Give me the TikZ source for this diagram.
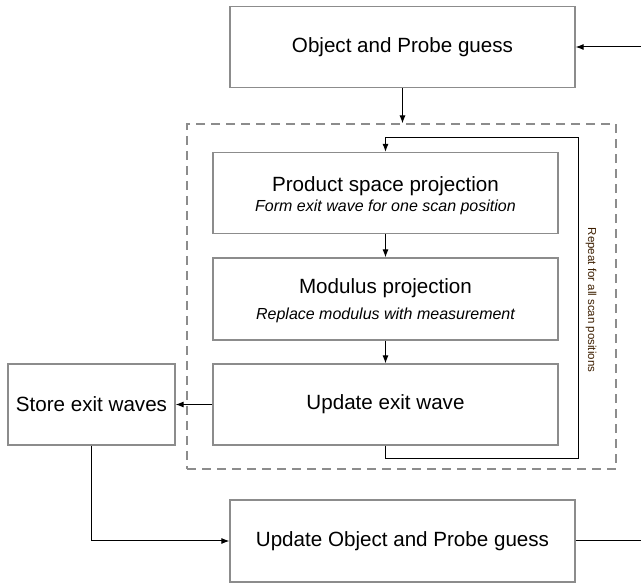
\documentclass[tikz,border=0pt]{standalone}
\usepackage{fontspec}
\setmainfont{Liberation Sans}
\usepackage{xcolor}
\usetikzlibrary{arrows.meta}
\definecolor{boxgray}{RGB}{140,140,140}
\definecolor{notebrown}{RGB}{60,30,0}
\newcommand{\stepsub}[1]{{\fontsize{16}{19}\selectfont\itshape #1}}

\begin{document}
\begin{tikzpicture}[x=1pt,y=-1pt,
  box/.style={draw=boxgray,line width=1.2pt,minimum width=345pt,minimum height=81pt,align=center,font=\fontsize{20.6}{24}\selectfont,inner sep=0pt},
  arr/.style={line width=1pt,-{Latex[length=8pt,width=6pt]}},
  note/.style={text=notebrown,font=\fontsize{11.5}{13}\selectfont,inner sep=0pt}]
\useasboundingbox (0,0) rectangle (641,585);
\node[draw=boxgray,line width=1.1pt,dash pattern=on 9pt off 6pt,minimum width=429pt,minimum height=345pt,inner sep=0pt] (loopframe) at (401.5,296.5) {};
\node[box] (guess) at (402.5,47) {Object and Probe guess};
\node[box] (prod) at (385.5,193) {\rule{0pt}{21pt}Product space projection\\[-4pt]\stepsub{Form exit wave for one scan position}};
\node[box,minimum height=82pt] (modu) at (385.5,299) {\rule{0pt}{19pt}Modulus projection\\[2pt]\stepsub{Replace modulus with measurement}};
\node[box] (upd) at (385.5,404.5) {Update exit wave};
\node[box,minimum width=167pt] (store) at (91.5,404.5) {Store exit waves};
\node[box,minimum height=82pt] (final) at (402.5,541) {Update Object and Probe guess};
\node[note,rotate=-90] (repeat) at (591,300) {Repeat for all scan positions};
\coordinate (inr) at (641,47);
\coordinate (outr) at (641,541);
\coordinate (loopbot) at (386,459);
\coordinate (looptop) at (578,138);
% main flow
\draw[arr] (inr) -- (guess.east);
\draw[arr] (guess.south) -- (guess.south |- loopframe.north);
\draw[arr] (prod.south) -- (modu.north);
\draw[arr] (modu.south) -- (upd.north);
% repeat loop
\draw[arr] (upd.south) -- (upd.south |- loopbot) -| (looptop) -- (prod.north |- looptop) -- (prod.north);
\draw[arr] (upd.west) -- (store.east);
\draw[arr] (store.south) |- (final.west);
\draw[line width=1pt] (final.east) -- (outr);
\end{tikzpicture}
\end{document}
